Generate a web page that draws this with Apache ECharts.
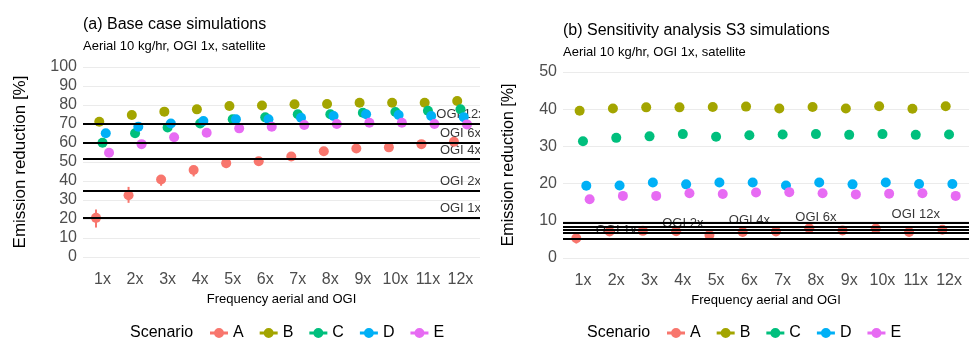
<!DOCTYPE html>
<html lang="en">
<head>
    <meta charset="UTF-8">
    <title>Emission reduction</title>
    <script src="https://cdn.jsdelivr.net/npm/echarts@6/dist/echarts.min.js"></script>
    <style>
        body { margin: 0; background: #fff; }
        #chartA { position: absolute; left: 0; top: 0; width: 480px; height: 343px; }
        #chartB { position: absolute; left: 480px; top: 0; width: 489px; height: 343px; }
    </style>
</head>
<body>
<div id="chartA"></div>
<div id="chartB"></div>

<script>
    var freqLabels = ['1x', '2x', '3x', '4x', '5x', '6x', '7x', '8x', '9x', '10x', '11x', '12x'];
    var scenarios = ['A', 'B', 'C', 'D', 'E'];

    // (a) base case
    var baseA = [20.6, 32.5, 40.8, 45.8, 49.4, 50.4, 52.9, 55.7, 57.1, 57.7, 59.4, 60.7];
    var baseALo = [15.5, 28.5, 37.5, 42.4, 46.8, 48.6, 51.2, 54.0, 55.5, 56.1, 57.8, 59.1];
    var baseAHi = [25.0, 36.9, 43.1, 47.5, 51.4, 52.2, 54.6, 57.4, 58.7, 59.3, 61.0, 62.3];
    var baseB = [71.2, 74.7, 76.5, 77.7, 79.5, 79.7, 80.4, 80.5, 81.2, 81.2, 81.2, 82.1];
    var baseC = [60.1, 65.1, 68.2, 70.3, 72.5, 73.5, 75.1, 75.1, 75.9, 76.3, 77.0, 77.7];
    var baseD = [65.1, 68.6, 70.3, 71.6, 72.5, 72.5, 73.3, 74.2, 75.1, 74.7, 74.2, 73.6];
    var baseE = [54.9, 59.4, 63.0, 65.4, 67.7, 68.6, 69.5, 70.0, 70.7, 70.7, 70.0, 69.8];
    var baseOgi = [20.6, 34.8, 51.5, 60.1, 70.3];
    var baseOgiNames = ['OGI 1x', 'OGI 2x', 'OGI 4x', 'OGI 6x', 'OGI 12x'];
    var baseOgiAt = [12, 12, 12, 12, 12];
    var baseTicks = [0, 10, 20, 30, 40, 50, 60, 70, 80, 90, 100];

    // (b) sensitivity S3
    var s3A = [5.3, 7.1, 7.3, 7.2, 6.2, 7.0, 7.1, 8.0, 7.4, 7.9, 7.0, 7.6];
    var s3ALo = [3.9, 6.0, 6.2, 6.1, 5.1, 5.9, 6.0, 6.7, 6.3, 6.7, 5.9, 6.5];
    var s3AHi = [6.6, 8.2, 8.4, 8.3, 7.3, 8.1, 8.2, 9.3, 8.5, 9.1, 8.1, 8.7];
    var s3B = [39.6, 40.2, 40.5, 40.5, 40.6, 40.7, 40.2, 40.6, 40.2, 40.8, 40.1, 40.8];
    var s3C = [31.4, 32.3, 32.7, 33.3, 32.6, 33.0, 33.2, 33.3, 33.1, 33.3, 33.1, 33.2];
    var s3D = [19.4, 19.5, 20.3, 19.8, 20.3, 20.3, 19.5, 20.3, 19.8, 20.3, 19.9, 19.9];
    var s3E = [15.8, 16.7, 16.7, 17.4, 17.2, 17.6, 17.7, 17.4, 17.1, 17.3, 17.4, 16.7];
    var s3Ogi = [5.1, 6.8, 7.6, 8.5, 9.4];
    var s3OgiNames = ['OGI 1x', 'OGI 2x', 'OGI 4x', 'OGI 6x', 'OGI 12x'];
    var s3OgiAt = [2, 4, 6, 8, 11];
    var s3Ticks = [0, 10, 20, 30, 40, 50];

    var colors = ['#F8766D', '#A3A500', '#00BF7D', '#00B0F6', '#E76BF3'];
    var dodge = [-0.2, -0.1, 0, 0.1, 0.2];
    var font = "'Liberation Sans', Arial, sans-serif";
    var legendIcon = 'path://M0,3.5H4.2V6.5H0Z M13.8,3.5H18V6.5H13.8Z M4,5A5,5 0 1,1 14,5A5,5 0 1,1 4,5Z';

    function makeOption(p) {
        var series = [];
        // reference lines + their labels, under the points
        series.push({
            type: 'scatter',
            symbolSize: 0,
            silent: true,
            z: 1,
            data: p.ogi.map(function (v, i) { return [p.ogiAt[i], v, p.ogiNames[i]]; }),
            label: {
                show: true,
                position: 'inside',
                offset: [0, -9],
                formatter: function (o) { return o.value[2]; },
                fontSize: 13, fontFamily: font, color: '#000'
            },
            markLine: {
                silent: true,
                symbol: 'none',
                label: { show: false },
                lineStyle: { color: '#000', width: 2, type: 'solid' },
                data: p.ogi.map(function (v) { return { yAxis: v }; })
            }
        });
        p.values.forEach(function (vals, k) {
            if (k === 0) {
                series.push({
                    type: 'custom',
                    silent: true,
                    z: 2,
                    data: vals.map(function (v, i) { return [i + 1 + dodge[k], p.lo[i], p.hi[i]]; }),
                    renderItem: function (params, api) {
                        var a = api.coord([api.value(0), api.value(1)]);
                        var b = api.coord([api.value(0), api.value(2)]);
                        return {
                            type: 'line',
                            shape: { x1: a[0], y1: a[1], x2: b[0], y2: b[1] },
                            style: { stroke: colors[0], lineWidth: 2 }
                        };
                    }
                });
            }
            series.push({
                name: scenarios[k],
                type: 'scatter',
                symbol: 'circle',
                symbolSize: 10,
                z: 3,
                itemStyle: { color: colors[k], opacity: 1 },
                data: vals.map(function (v, i) { return [i + 1 + dodge[k], v]; })
            });
        });

        return {
            animation: false,
            color: colors,
            title: {
                text: p.title,
                subtext: 'Aerial 10 kg/hr, OGI 1x, satellite',
                left: p.gridLeft, top: p.titleTop, padding: 0, itemGap: 7,
                textStyle: { fontSize: 16, fontWeight: 'normal', color: '#000', fontFamily: font, lineHeight: 16 },
                subtextStyle: { fontSize: 13, color: '#000', fontFamily: font, lineHeight: 13 }
            },
            graphic: [{
                type: 'text', x: p.scenarioX, y: 333,
                style: { text: 'Scenario', fontSize: 16, fontFamily: font, fill: '#000', verticalAlign: 'middle' }
            }],
            legend: {
                data: scenarios,
                left: p.legendLeft, top: 320,
                icon: legendIcon,
                itemWidth: 18, itemHeight: 10, itemGap: 16,
                textStyle: { fontSize: 16, fontFamily: font, color: '#000' }
            },
            grid: { left: p.gridLeft, right: p.gridRight, top: p.gridTop, bottom: p.gridBottom },
            xAxis: {
                type: 'value',
                min: 0.4, max: 12.6,
                name: 'Frequency aerial and OGI',
                nameLocation: 'middle', nameGap: p.xNameGap,
                nameTextStyle: { fontSize: 13, color: '#000', fontFamily: font },
                axisLine: { show: false },
                axisTick: { show: false },
                splitLine: { show: false },
                axisLabel: {
                    customValues: freqLabels.map(function (s, i) { return i + 1; }),
                    formatter: function (v) { return freqLabels[Math.round(v) - 1]; },
                    margin: 15, fontSize: 16, color: '#4d4d4d', fontFamily: font
                }
            },
            yAxis: {
                type: 'value',
                min: 0, max: p.yMax, interval: 10,
                name: 'Emission reduction [%]',
                nameLocation: 'middle', nameGap: p.yNameGap,
                nameTextStyle: { fontSize: p.yNameSize, color: '#000', fontFamily: font },
                axisLine: { show: false },
                axisTick: { show: false },
                splitLine: { show: true, lineStyle: { color: '#ebebeb', width: 1 } },
                axisLabel: {
                    customValues: p.ticks,
                    margin: 6, fontSize: 16, color: '#4d4d4d', fontFamily: font
                }
            },
            series: series
        };
    }

    var chartA = echarts.init(document.getElementById('chartA'));
    chartA.setOption(makeOption({
        title: '(a) Base case simulations', titleTop: 17,
        values: [baseA, baseB, baseC, baseD, baseE], lo: baseALo, hi: baseAHi,
        ogi: baseOgi, ogiNames: baseOgiNames, ogiAt: baseOgiAt, ticks: baseTicks,
        yMax: 100, gridLeft: 83, gridRight: -7, gridTop: 67, gridBottom: 86,
        xNameGap: 34, yNameGap: 54, yNameSize: 17,
        scenarioX: 130, legendLeft: 205
    }));

    var chartB = echarts.init(document.getElementById('chartB'));
    chartB.setOption(makeOption({
        title: '(b) Sensitivity analysis S3 simulations', titleTop: 23,
        values: [s3A, s3B, s3C, s3D, s3E], lo: s3ALo, hi: s3AHi,
        ogi: s3Ogi, ogiNames: s3OgiNames, ogiAt: s3OgiAt, ticks: s3Ticks,
        yMax: 50, gridLeft: 83, gridRight: -2, gridTop: 72, gridBottom: 85,
        xNameGap: 34, yNameGap: 46, yNameSize: 16,
        scenarioX: 107, legendLeft: 182
    }));
</script>
</body>
</html>
